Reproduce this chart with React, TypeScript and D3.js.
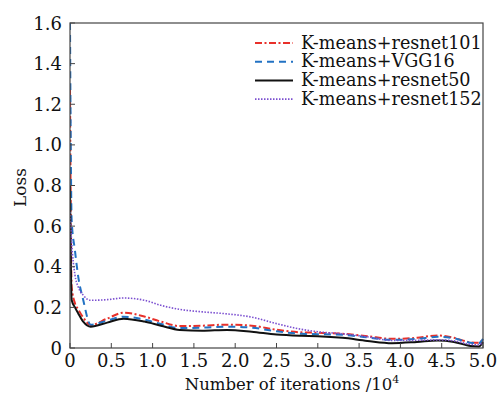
import React from "react";
import * as d3 from "d3";

const xs = [0, 0.02, 0.06, 0.1, 0.16, 0.25, 0.45, 0.65, 0.9, 1.1, 1.33, 1.6, 1.9, 2.2, 2.5, 2.8, 3.0, 3.3, 3.6, 3.9, 4.2, 4.45, 4.65, 4.85, 4.95, 5.0];
const resnet101 = [1.28, 0.3, 0.22, 0.19, 0.15, 0.113, 0.145, 0.174, 0.155, 0.13, 0.108, 0.11, 0.115, 0.11, 0.09, 0.077, 0.075, 0.07, 0.058, 0.045, 0.05, 0.062, 0.05, 0.028, 0.026, 0.043];
const vgg16 = [1.6, 0.63, 0.48, 0.35, 0.236, 0.115, 0.135, 0.154, 0.14, 0.118, 0.098, 0.1, 0.105, 0.1, 0.082, 0.07, 0.068, 0.065, 0.052, 0.04, 0.045, 0.055, 0.048, 0.026, 0.024, 0.045];
const resnet50 = [0.8, 0.236, 0.2, 0.17, 0.13, 0.105, 0.125, 0.144, 0.13, 0.11, 0.089, 0.085, 0.089, 0.08, 0.066, 0.06, 0.058, 0.05, 0.035, 0.024, 0.03, 0.037, 0.03, 0.01, 0.008, 0.03];
const resnet152 = [0.67, 0.52, 0.36, 0.3, 0.26, 0.235, 0.238, 0.246, 0.235, 0.21, 0.19, 0.178, 0.168, 0.152, 0.12, 0.092, 0.08, 0.07, 0.055, 0.037, 0.038, 0.04, 0.035, 0.018, 0.016, 0.03];
const seriesNames = ["K-means+resnet101", "K-means+VGG16", "K-means+resnet50", "K-means+resnet152"];
const xTicks = [0, 0.5, 1.0, 1.5, 2.0, 2.5, 3.0, 3.5, 4.0, 4.5, 5.0];
const yTicks = [0, 0.2, 0.4, 0.6, 0.8, 1.0, 1.2, 1.4, 1.6];

const styles = [
  { color: "#e8302a", dash: "7,2.5,2,2.5", width: 2 },
  { color: "#2272c3", dash: "7,5", width: 2 },
  { color: "#111111", dash: "", width: 2 },
  { color: "#7b4fd0", dash: "1.5,1.5", width: 1.6 },
];

export default function App() {
  const W = 499, H = 395;
  const L = 70, R = 483, T = 23, B = 348;
  const x = d3.scaleLinear().domain([0, 5]).range([L, R]);
  const y = d3.scaleLinear().domain([0, 1.6]).range([B, T]);
  const font = "'DejaVu Serif', serif";
  const data = [resnet101, vgg16, resnet50, resnet152];
  const line = d3
    .line<number>()
    .x((_, i) => x(xs[i]))
    .y((d) => y(d))
    .curve(d3.curveMonotoneX);
  const fmt = (v: number) => (v === 0 ? "0" : v.toFixed(1));
  return (
    <svg width={W} height={H} style={{ position: "absolute", left: 0, top: 0, background: "#fff" }}>
      <defs>
        <clipPath id="pc">
          <rect x={L} y={T - 1} width={R - L + 2} height={B - T + 1} />
        </clipPath>
      </defs>
      <g clipPath="url(#pc)">
        {data.map((d, i) => (
          <path
            key={i}
            d={line(d) || ""}
            fill="none"
            stroke={styles[i].color}
            strokeWidth={styles[i].width}
            strokeDasharray={styles[i].dash}
          />
        ))}
      </g>
      <rect x={L} y={T} width={R - L} height={B - T} fill="none" stroke="#444" strokeWidth={1.2} />
      {xTicks.map((t) => (
        <g key={"x" + t}>
          <line x1={x(t)} x2={x(t)} y1={B} y2={B - 5} stroke="#444" />
          <text x={x(t)} y={367} textAnchor="middle" fontFamily={font} fontSize={18} fill="#111">
            {fmt(t)}
          </text>
        </g>
      ))}
      {yTicks.map((t) => (
        <g key={"y" + t}>
          <line x1={L} x2={L + 5} y1={y(t)} y2={y(t)} stroke="#444" />
          <text x={62} y={y(t) + 6.5} textAnchor="end" fontFamily={font} fontSize={18} fill="#111">
            {fmt(t)}
          </text>
        </g>
      ))}
      <text
        transform={`translate(26,${(T + B) / 2 + 2}) rotate(-90)`}
        textAnchor="middle"
        fontFamily={font}
        fontSize={17}
        fill="#111"
      >
        Loss
      </text>
      <text x={292} y={390} textAnchor="middle" fontFamily={font} fontSize={16.5} fill="#111">
        Number of iterations /10
        <tspan dy={-7} fontSize={11}>4</tspan>
      </text>
      {seriesNames.map((n, i) => {
        const yy = 43 + i * 18.7;
        return (
          <g key={n}>
            <line
              x1={255}
              x2={293}
              y1={yy}
              y2={yy}
              stroke={styles[i].color}
              strokeWidth={styles[i].width}
              strokeDasharray={styles[i].dash}
            />
            <text x={301} y={yy + 5.5} fontFamily={font} fontSize={17.6} fill="#111">
              {n}
            </text>
          </g>
        );
      })}
    </svg>
  );
}
